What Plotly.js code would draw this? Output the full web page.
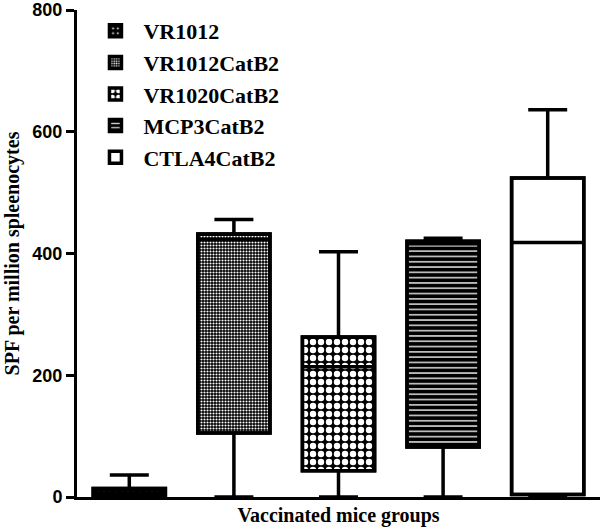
<!DOCTYPE html>
<html><head><meta charset="utf-8">
<script src="https://cdn.plot.ly/plotly-3.0.1.min.js"></script>
<style>html,body{margin:0;padding:0;background:#fff}#chart{width:600px;height:528px}</style>
</head><body><div id="chart"></div>
<script>
const groups = ["VR1012", "VR1012CatB2", "VR1020CatB2", "MCP3CatB2", "CTLA4CatB2"];
const lowerWhisker = [0, 0, 0, 0, 0];
const q1Values = [0, 105, 43, 82, 4];
const medianValues = [6, 423, 214, 416, 418];
const q3Values = [14, 432, 263, 420, 524];
const upperWhisker = [36, 456, 403, 425, 636];
const yTicks = [0, 200, 400, 600, 800];

const patterns = [
  {shape: ".", fgcolor: "#ffffff", bgcolor: "#000000", size: 6, solidity: 0.12},
  {shape: ".", fgcolor: "#ffffff", bgcolor: "#000000", size: 3, solidity: 0.4},
  {shape: ".", fgcolor: "#ffffff", bgcolor: "#000000", size: 8, solidity: 0.5},
  {shape: "-", fgcolor: "#d0d0d0", bgcolor: "#000000", size: 5.3, solidity: 0.3},
  {shape: "", fgcolor: "#ffffff", bgcolor: "#ffffff", size: 8, solidity: 0.3}
];

const traces = groups.map((g, i) => ({
  type: "bar",
  name: g,
  x: [g],
  y: [q3Values[i] - q1Values[i]],
  base: [q1Values[i]],
  width: 0.69,
  marker: {color: i === 4 ? "#ffffff" : "#000000", pattern: patterns[i], line: {color: "#000", width: 3.5}},
  hoverinfo: "skip"
}));

traces.push({
  type: "box",
  x: groups,
  q1: q1Values,
  median: medianValues,
  q3: q3Values,
  lowerfence: lowerWhisker,
  upperfence: upperWhisker,
  width: 0.69,
  whiskerwidth: 0.54,
  line: {color: "#000", width: 3.5},
  fillcolor: "rgba(0,0,0,0)",
  showlegend: false,
  hoverinfo: "skip"
});

const layout = {
  width: 600, height: 528,
  margin: {l: 77, r: 0, t: 10, b: 31},
  paper_bgcolor: "#fff", plot_bgcolor: "#fff",
  barmode: "overlay",
  showlegend: true,
  legend: {
    x: 0.02, y: 1.0, xanchor: "left", yanchor: "top",
    font: {family: "Liberation Serif, Times New Roman, serif", size: 22, color: "#000", weight: "bold"},
    bgcolor: "rgba(0,0,0,0)", tracegroupgap: 0, itemwidth: 46
  },
  xaxis: {
    type: "category", range: [-0.5, 4.5],
    showticklabels: false, ticks: "",
    showline: true, linecolor: "#000", linewidth: 3,
    showgrid: false, zeroline: false,
    title: {text: "Vaccinated mice groups", standoff: 9,
      font: {family: "Liberation Serif, Times New Roman, serif", size: 20, color: "#000", weight: "bold"}}
  },
  yaxis: {
    range: [0, 800], tickvals: yTicks, ticktext: yTicks.map(String),
    ticks: "outside", ticklen: 8, tickwidth: 3, tickcolor: "#000",
    showline: true, linecolor: "#000", linewidth: 3,
    showgrid: false, zeroline: false,
    tickfont: {family: "Liberation Sans, Arial, sans-serif", size: 18, color: "#000", weight: "bold"},
    title: {text: "SPF per million spleenocytes", standoff: 8,
      font: {family: "Liberation Serif, Times New Roman, serif", size: 20, color: "#000", weight: "bold"}}
  }
};

Plotly.newPlot("chart", traces, layout, {displayModeBar: false, staticPlot: true});
</script></body></html>
